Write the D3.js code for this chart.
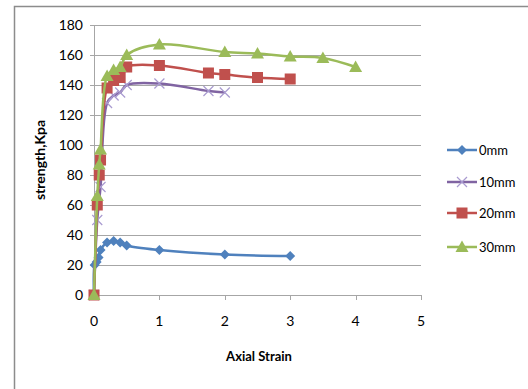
<!DOCTYPE html>
<html>
<head>
<meta charset="utf-8">
<script src="https://cdn.jsdelivr.net/npm/d3@7"></script>
<style>
body { margin: 0; background: #fff; }
svg { font-family: Lato, "Open Sans", sans-serif; }
</style>
</head>
<body>
<div id="chart"></div>
<script>
var seriesNames = ["0mm", "10mm", "20mm", "30mm"];
var seriesColors = ["#4F81BD", "#8064A2", "#C0504D", "#9BBB59"];
var seriesMarkers = ["diamond", "cross", "square", "triangle"];

var strain0 = [0, 0.01, 0.04, 0.07, 0.1, 0.2, 0.3, 0.4, 0.5, 1, 2, 3];
var stress0 = [0, 20, 22, 25, 30, 35, 36, 35, 33, 30, 27, 26];

var strain10 = [0, 0.05, 0.1, 0.2, 0.3, 0.4, 0.5, 1, 1.75, 2];
var stress10 = [0, 50, 72, 128, 133, 135, 140, 141, 136, 135];

var strain20 = [0, 0.05, 0.08, 0.1, 0.2, 0.3, 0.4, 0.5, 1, 1.75, 2, 2.5, 3];
var stress20 = [0, 60, 80, 90, 138, 143, 145, 152, 153, 148, 147, 145, 144];

var strain30 = [0, 0.05, 0.08, 0.1, 0.2, 0.3, 0.4, 0.5, 1, 2, 2.5, 3, 3.5, 4];
var stress30 = [0, 66, 87, 97, 146, 150, 152, 160, 167, 162, 161, 159, 158, 152];

var xTicks = [0, 1, 2, 3, 4, 5];
var yTicks = [0, 20, 40, 60, 80, 100, 120, 140, 160, 180];

var strains = [strain0, strain10, strain20, strain30];
var stresses = [stress0, stress10, stress20, stress30];

var svg = d3.select("#chart").append("svg").attr("width", 528).attr("height", 389);

// outer chart border
svg.append("rect")
    .attr("x", 14.5).attr("y", 6.5)
    .attr("width", 540).attr("height", 420)
    .attr("fill", "none").attr("stroke", "#8c8c8c").attr("stroke-width", 1.5);

var x = d3.scaleLinear().domain([0, 5]).range([94, 421]);
var y = d3.scaleLinear().domain([0, 180]).range([295, 25]);

// gridlines
svg.selectAll(".grid").data(yTicks).enter().append("line")
    .attr("x1", x(0)).attr("x2", x(5))
    .attr("y1", function(d) { return Math.round(y(d)) + 0.5; })
    .attr("y2", function(d) { return Math.round(y(d)) + 0.5; })
    .attr("stroke", "#a6a6a6").attr("stroke-width", 1);

// y axis
svg.append("line").attr("x1", 94.5).attr("x2", 94.5).attr("y1", y(180)).attr("y2", y(0))
    .attr("stroke", "#a6a6a6");
svg.selectAll(".ytick").data(yTicks).enter().append("line")
    .attr("x1", 90).attr("x2", 94)
    .attr("y1", function(d) { return Math.round(y(d)) + 0.5; })
    .attr("y2", function(d) { return Math.round(y(d)) + 0.5; })
    .attr("stroke", "#a6a6a6");
svg.selectAll(".ylab").data(yTicks).enter().append("text")
    .attr("x", 83).attr("y", function(d) { return y(d); })
    .attr("dy", "0.35em").attr("text-anchor", "end")
    .style("font-size", "14px").style("fill", "#000")
    .text(function(d) { return d; });

// x axis ticks
svg.selectAll(".xtick").data(xTicks).enter().append("line")
    .attr("x1", function(d) { return Math.round(x(d)) + 0.5; })
    .attr("x2", function(d) { return Math.round(x(d)) + 0.5; })
    .attr("y1", y(0)).attr("y2", y(0) + 5)
    .attr("stroke", "#a6a6a6");
svg.selectAll(".xlab").data(xTicks).enter().append("text")
    .attr("x", function(d) { return x(d); }).attr("y", 326)
    .attr("text-anchor", "middle")
    .style("font-size", "14px").style("fill", "#000")
    .text(function(d) { return d; });

// axis titles
svg.append("text").attr("x", 259).attr("y", 361).attr("text-anchor", "middle")
    .style("font-size", "13px").style("font-weight", "bold")
    .text("Axial Strain");
svg.append("text").attr("transform", "translate(45,160) rotate(-90)")
    .attr("text-anchor", "middle")
    .style("font-size", "14px").style("font-weight", "bold")
    .text("strength,Kpa");

function drawMarker(g, type, color, cx, cy) {
  if (type == "diamond") {
    g.append("path").attr("d", "M" + cx + "," + (cy - 5) + "L" + (cx + 5) + "," + cy + "L" + cx + "," + (cy + 5) + "L" + (cx - 5) + "," + cy + "Z")
        .attr("fill", color);
  } else if (type == "cross") {
    g.append("path").attr("d", "M" + (cx - 5) + "," + (cy - 5) + "L" + (cx + 5) + "," + (cy + 5) + "M" + (cx + 5) + "," + (cy - 5) + "L" + (cx - 5) + "," + (cy + 5))
        .attr("stroke", "#a99bd0").attr("stroke-width", 1.2).attr("fill", "none");
  } else if (type == "square") {
    g.append("rect").attr("x", cx - 5.5).attr("y", cy - 5.5).attr("width", 11).attr("height", 11)
        .attr("fill", color);
  } else {
    g.append("path").attr("d", "M" + cx + "," + (cy - 6.5) + "L" + (cx + 6.5) + "," + (cy + 5) + "L" + (cx - 6.5) + "," + (cy + 5) + "Z")
        .attr("fill", color);
  }
}

var line = d3.line()
    .x(function(d) { return x(d[0]); })
    .y(function(d) { return y(d[1]); })
    .curve(d3.curveCatmullRom.alpha(0.5));

seriesNames.forEach(function(name, i) {
  var pts = strains[i].map(function(s, j) { return [s, stresses[i][j]]; });
  var g = svg.append("g");
  g.append("path").datum(pts).attr("d", line)
      .attr("fill", "none").attr("stroke", seriesColors[i]).attr("stroke-width", 2.5);
  pts.forEach(function(p) {
    drawMarker(g, seriesMarkers[i], seriesColors[i], x(p[0]), y(p[1]));
  });
});

// legend
var legendY = [150, 182, 213, 247];
seriesNames.forEach(function(name, i) {
  var g = svg.append("g");
  g.append("line").attr("x1", 447).attr("x2", 477).attr("y1", legendY[i]).attr("y2", legendY[i])
      .attr("stroke", seriesColors[i]).attr("stroke-width", 2.5);
  drawMarker(g, seriesMarkers[i], seriesColors[i], 462, legendY[i]);
  g.append("text").attr("x", 479).attr("y", legendY[i]).attr("dy", "0.35em")
      .style("font-size", "13px").text(name);
});
</script>
</body>
</html>
